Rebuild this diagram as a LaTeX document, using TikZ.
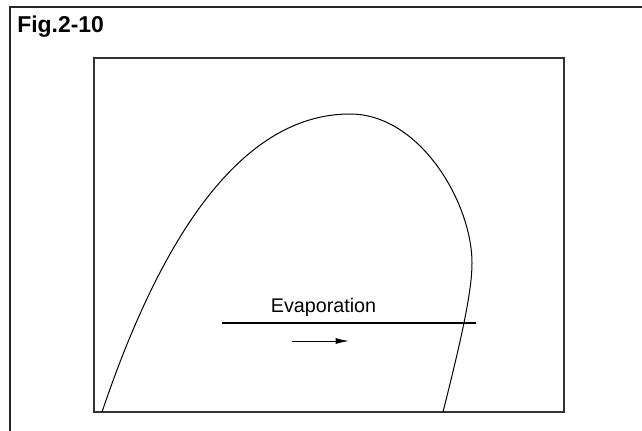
\documentclass[tikz,border=0pt]{standalone}
\usepackage{fontspec}
\setmainfont{Liberation Sans}
\usetikzlibrary{arrows.meta}

\begin{document}
\begin{tikzpicture}[x=0.75pt, y=-0.75pt, every node/.style={inner sep=0pt, font=\fontsize{14.8}{16}\selectfont}, frame/.style={draw=black!80, line width=1.3pt}, curve/.style={line width=0.75pt}]
	\useasboundingbox (0,0) rectangle (642,431);
	\coordinate (fl) at (10,431);
	\coordinate (ftl) at (10,7);
	\coordinate (fr) at (642,7);
	\draw[black!85, line width=1.1pt] (fl) -- (ftl) -- (fr);
	\node[anchor=base west, font=\bfseries\fontsize{17.2}{18}\selectfont] (title) at (17,33) {Fig.2-10};
	\draw[frame] (94,58) rectangle (564,412);
	% saturation dome
	\coordinate (liq) at (102,412);
	\coordinate (top) at (350,114);
	\coordinate (bulge) at (472,263);
	\coordinate (vap) at (443,412);
	\draw[curve] (liq) .. controls (160,240) and (240,114) .. (top)
		.. controls (420,114) and (472,203) .. (bulge)
		.. controls (472,295) and (458,352) .. (vap);
	\coordinate (l1) at (222,323);
	\coordinate (l2) at (476,323);
	\draw[line width=2pt] (l1) -- (l2);
	\node[anchor=base] (evap) at (323.5,312) {Evaporation};
	\coordinate (a1) at (292,341);
	\coordinate (a2) at (349,341);
	\draw[line width=0.75pt, -{Latex[length=10pt,width=4.5pt]}] (a1) -- (a2);
\end{tikzpicture}
\end{document}
